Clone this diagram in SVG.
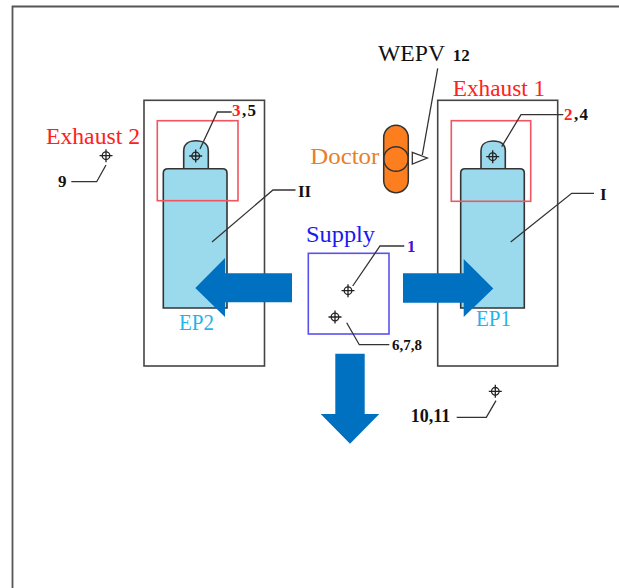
<svg xmlns="http://www.w3.org/2000/svg" xmlns:xlink="http://www.w3.org/1999/xlink" width="619" height="588" viewBox="0 0 619 588">
<style>
text{font-family:"Liberation Serif","Times New Roman",serif}
.lab{font-size:24px}
.num{font-size:17px;font-weight:bold;fill:#111}
.box{fill:none;stroke:#444;stroke-width:1.6}
.red{fill:none;stroke:#f2555f;stroke-width:1.6}
.body{fill:#9bd9ec;stroke:#333;stroke-width:1.6}
.lead{fill:none;stroke:#333;stroke-width:1.3}
.arrow{fill:#0070c0}
.r{fill:#ff2020}
</style>
<defs>
<g id="cross" fill="none" stroke="#222">
<circle r="3.8" stroke-width="1.3"/>
<path d="M-6.5 0H6.5M0-6.5V6.5" stroke-width="1.3"/>
</g>
</defs>
<rect width="619" height="588" fill="#fff"/>
<g id="frame"><path d="M12.5 588V6.5H619" fill="none" stroke="#555" stroke-width="1.8"/></g>
<g id="ep2">
<rect class="box" x="144" y="100.3" width="120.5" height="265.7"/>
<path class="body" d="M183.7 169V151C183.7 144 189 140.7 196 140.7C203 140.7 208.3 144 208.3 151V169Z"/>
<path class="body" d="M163.3 308V173Q163.3 168.7 168 168.7H222.5Q227 168.7 227 173V308Z"/>
<rect class="red" x="157.3" y="120.7" width="80.7" height="80"/>
<use xlink:href="#cross" href="#cross" x="195.7" y="156"/>
<text class="lab" x="179" y="330" fill="#1fb5ee" textLength="35" lengthAdjust="spacingAndGlyphs">EP2</text>
</g>
<g id="ep1">
<rect class="box" x="437.7" y="100.3" width="120" height="265.7"/>
<path class="body" d="M481 169V151C481 144 486.5 141 493 141C500 141 505.3 144 505.3 151V169Z"/>
<path class="body" d="M460.7 308V173Q460.7 168.7 465 168.7H520Q524.3 168.7 524.3 173V308Z"/>
<rect class="red" x="451.3" y="120.7" width="79.4" height="80.6"/>
<use xlink:href="#cross" href="#cross" x="492.7" y="156.7"/>
<text class="lab" x="476" y="326" fill="#1fb5ee" textLength="35" lengthAdjust="spacingAndGlyphs">EP1</text>
</g>
<g id="exhaust1"><text class="lab" x="452.7" y="96" fill="#ff2020" textLength="92.5" lengthAdjust="spacingAndGlyphs">Exhaust 1</text></g>
<g id="exhaust2">
<text class="lab" x="46" y="144" fill="#ff2020" textLength="94" lengthAdjust="spacingAndGlyphs">Exhaust 2</text>
<use xlink:href="#cross" href="#cross" x="106" y="155.7"/>
</g>
<g id="doctor">
<text class="lab" x="310.3" y="164.3" fill="#e8802a" textLength="69" lengthAdjust="spacingAndGlyphs">Doctor</text>
<rect x="383.7" y="125.3" width="24.6" height="67.4" rx="12.3" fill="#fd7e1f" stroke="#333" stroke-width="1.5"/>
<circle cx="396" cy="159" r="12.3" fill="none" stroke="#333" stroke-width="1.5"/>
</g>
<g id="wepv">
<path d="M412.3 152.3L427.3 158L412.3 164Z" fill="#fff" stroke="#333" stroke-width="1.3"/>
<text class="lab" x="378" y="60.7" fill="#111" textLength="67" lengthAdjust="spacingAndGlyphs">WEPV</text>
<text class="num" x="452.7" y="61.3">12</text>
</g>
<g id="supply">
<text class="lab" x="306" y="242" fill="#1a1aee" textLength="69" lengthAdjust="spacingAndGlyphs">Supply</text>
<rect x="308.3" y="253.3" width="80.7" height="80.7" fill="#fff" stroke="#5a50ee" stroke-width="1.6"/>
<use xlink:href="#cross" href="#cross" x="348" y="290.7"/>
<use xlink:href="#cross" href="#cross" x="335" y="317"/>
</g>
<g id="point-10-11"><use xlink:href="#cross" href="#cross" x="495.3" y="391.3"/></g>
<g id="connectors">
<path class="lead" d="M200 149L217.3 112H231.7"/>
<path class="lead" d="M501.7 146.7L521 114.7H563.3"/>
<path class="lead" d="M106 165L96.7 181.7H71.3"/>
<path class="lead" d="M212 242L273 190H295.5"/>
<path class="lead" d="M510.7 242L571.7 193.3H594"/>
<path class="lead" d="M352.7 286L380 246H404.3"/>
<path class="lead" d="M346.7 322.7L359.3 344.7H389.3"/>
<path class="lead" d="M496 400.7L486.3 417.3H456.7"/>
<path class="lead" d="M437.7 68.3L422.3 155"/>
</g>
<g id="labels">
<text class="num" x="232" y="116" textLength="24"><tspan class="r">3</tspan>,5</text>
<text class="num" x="564" y="120" textLength="24"><tspan class="r">2</tspan>,4</text>
<text class="num" x="58" y="187">9</text>
<text class="num" x="298" y="197">II</text>
<text class="num" x="600" y="199.5">I</text>
<text class="num" x="407" y="252" style="fill:#4a10d0">1</text>
<text class="num" x="392" y="350" style="font-size:15px">6,7,8</text>
<text class="num" x="410.7" y="421.7" style="font-size:18px">10,11</text>
</g>
<g id="flow-arrows">
<path class="arrow" d="M292 273.3V302.3H225V317L195.3 288L225 258V273.3Z"/>
<path class="arrow" d="M403 273.3H463.7V259L493.3 288.5L463.7 317V302.7H403Z"/>
<path class="arrow" d="M335.3 353.7H364.7V414H379.3L350 443.7L320.7 414H335.3Z"/>
</g>
</svg>
